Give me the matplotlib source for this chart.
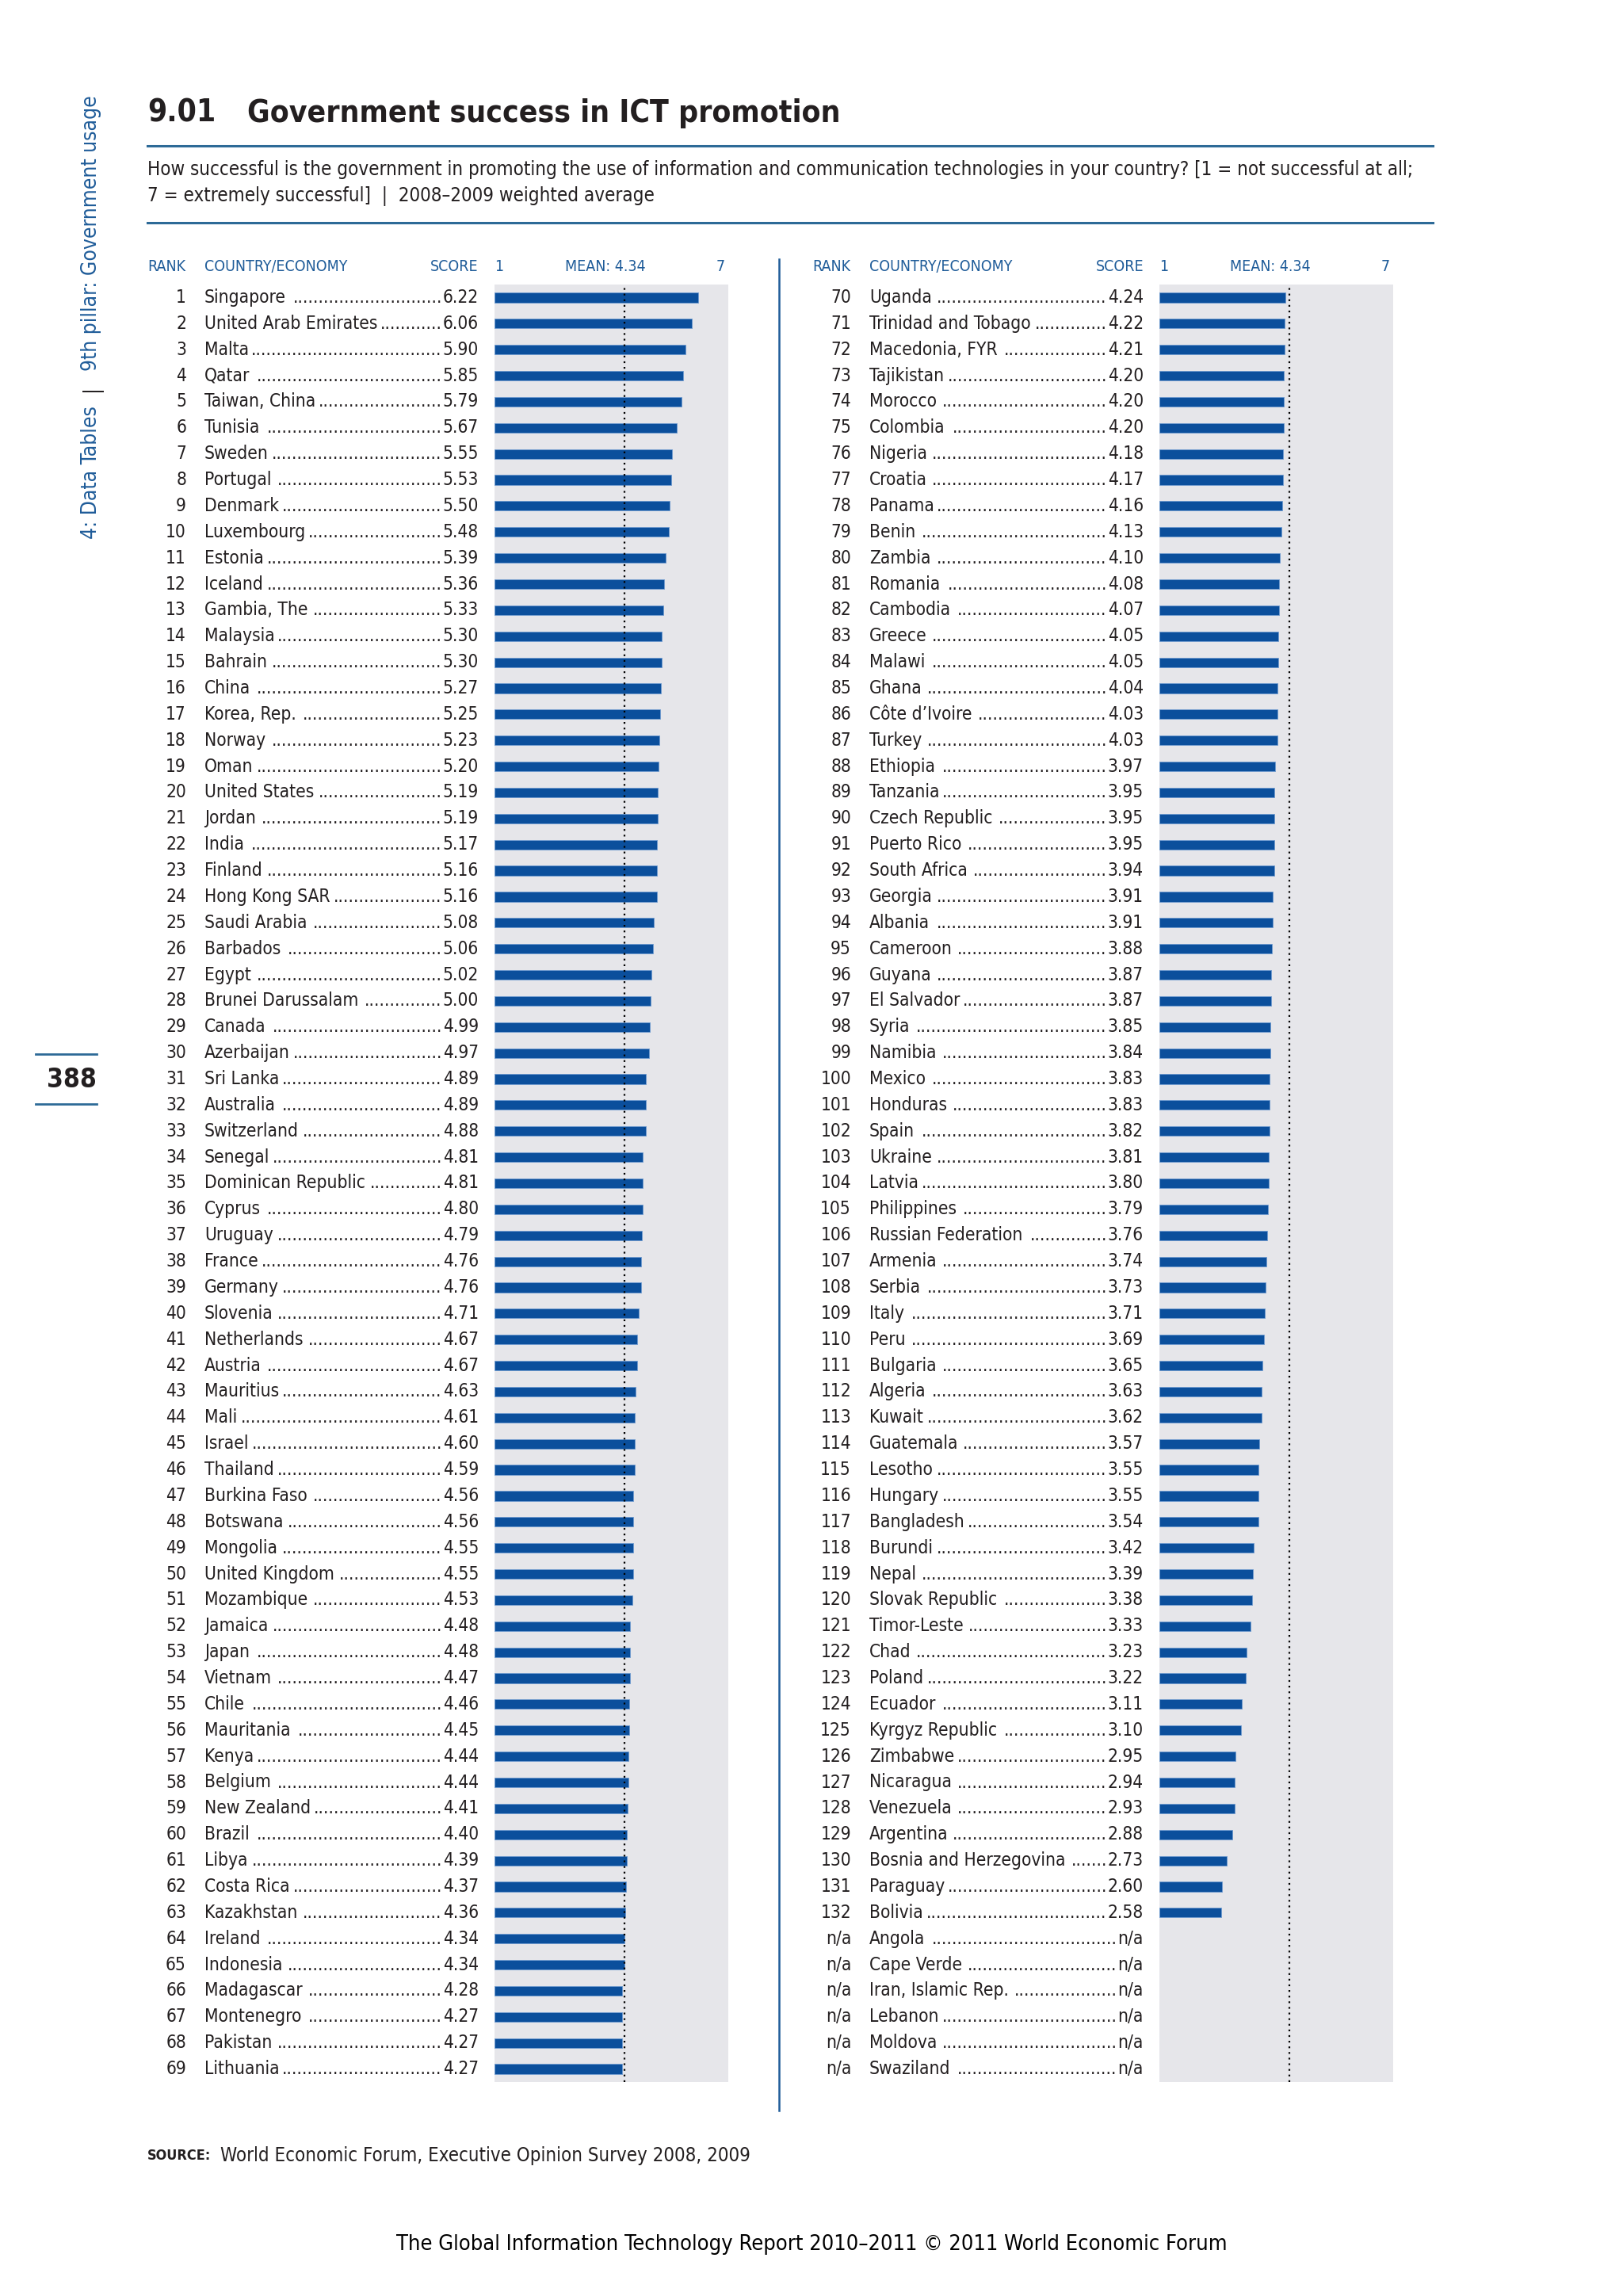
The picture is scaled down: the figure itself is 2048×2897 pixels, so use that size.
import matplotlib
matplotlib.use('Agg')
import matplotlib.pyplot as plt
import matplotlib.transforms as mtransforms
import numpy as np

W, H = 2048, 2897

# ---- data ----
ranks_left = [str(i) for i in range(1, 70)]
countries_left = [
    'Singapore', 'United Arab Emirates', 'Malta', 'Qatar', 'Taiwan, China', 'Tunisia',
    'Sweden', 'Portugal', 'Denmark', 'Luxembourg', 'Estonia', 'Iceland', 'Gambia, The',
    'Malaysia', 'Bahrain', 'China', 'Korea, Rep.', 'Norway', 'Oman', 'United States',
    'Jordan', 'India', 'Finland', 'Hong Kong SAR', 'Saudi Arabia', 'Barbados', 'Egypt',
    'Brunei Darussalam', 'Canada', 'Azerbaijan', 'Sri Lanka', 'Australia', 'Switzerland',
    'Senegal', 'Dominican Republic', 'Cyprus', 'Uruguay', 'France', 'Germany', 'Slovenia',
    'Netherlands', 'Austria', 'Mauritius', 'Mali', 'Israel', 'Thailand', 'Burkina Faso',
    'Botswana', 'Mongolia', 'United Kingdom', 'Mozambique', 'Jamaica', 'Japan', 'Vietnam',
    'Chile', 'Mauritania', 'Kenya', 'Belgium', 'New Zealand', 'Brazil', 'Libya',
    'Costa Rica', 'Kazakhstan', 'Ireland', 'Indonesia', 'Madagascar', 'Montenegro',
    'Pakistan', 'Lithuania']
scores_left = [
    6.22, 6.06, 5.90, 5.85, 5.79, 5.67, 5.55, 5.53, 5.50, 5.48, 5.39, 5.36, 5.33, 5.30,
    5.30, 5.27, 5.25, 5.23, 5.20, 5.19, 5.19, 5.17, 5.16, 5.16, 5.08, 5.06, 5.02, 5.00,
    4.99, 4.97, 4.89, 4.89, 4.88, 4.81, 4.81, 4.80, 4.79, 4.76, 4.76, 4.71, 4.67, 4.67,
    4.63, 4.61, 4.60, 4.59, 4.56, 4.56, 4.55, 4.55, 4.53, 4.48, 4.48, 4.47, 4.46, 4.45,
    4.44, 4.44, 4.41, 4.40, 4.39, 4.37, 4.36, 4.34, 4.34, 4.28, 4.27, 4.27, 4.27]

ranks_right = [str(i) for i in range(70, 133)] + ['n/a'] * 6
countries_right = [
    'Uganda', 'Trinidad and Tobago', 'Macedonia, FYR', 'Tajikistan', 'Morocco', 'Colombia',
    'Nigeria', 'Croatia', 'Panama', 'Benin', 'Zambia', 'Romania', 'Cambodia', 'Greece',
    'Malawi', 'Ghana', 'Côte d\u2019Ivoire', 'Turkey', 'Ethiopia', 'Tanzania',
    'Czech Republic', 'Puerto Rico', 'South Africa', 'Georgia', 'Albania', 'Cameroon',
    'Guyana', 'El Salvador', 'Syria', 'Namibia', 'Mexico', 'Honduras', 'Spain', 'Ukraine',
    'Latvia', 'Philippines', 'Russian Federation', 'Armenia', 'Serbia', 'Italy', 'Peru',
    'Bulgaria', 'Algeria', 'Kuwait', 'Guatemala', 'Lesotho', 'Hungary', 'Bangladesh',
    'Burundi', 'Nepal', 'Slovak Republic', 'Timor-Leste', 'Chad', 'Poland', 'Ecuador',
    'Kyrgyz Republic', 'Zimbabwe', 'Nicaragua', 'Venezuela', 'Argentina',
    'Bosnia and Herzegovina', 'Paraguay', 'Bolivia',
    'Angola', 'Cape Verde', 'Iran, Islamic Rep.', 'Lebanon', 'Moldova', 'Swaziland']
scores_right = [
    4.24, 4.22, 4.21, 4.20, 4.20, 4.20, 4.18, 4.17, 4.16, 4.13, 4.10, 4.08, 4.07, 4.05,
    4.05, 4.04, 4.03, 4.03, 3.97, 3.95, 3.95, 3.95, 3.94, 3.91, 3.91, 3.88, 3.87, 3.87,
    3.85, 3.84, 3.83, 3.83, 3.82, 3.81, 3.80, 3.79, 3.76, 3.74, 3.73, 3.71, 3.69, 3.65,
    3.63, 3.62, 3.57, 3.55, 3.55, 3.54, 3.42, 3.39, 3.38, 3.33, 3.23, 3.22, 3.11, 3.10,
    2.95, 2.94, 2.93, 2.88, 2.73, 2.60, 2.58,
    None, None, None, None, None, None]

mean_score = 4.34

# condensed face of DejaVu Sans for the narrow print type
plt.rcParams['font.family'] = ['DejaVu Sans']
plt.rcParams['font.stretch'] = 'condensed'

BLUE_TXT = '#1f5c99'
BAR = '#0b4f9c'
RULE = '#2d6a97'
GREY = '#e6e6ea'
TEXT = '#231f20'

fig = plt.figure(figsize=(W / 100, H / 100), dpi=100)
renderer = fig.canvas.get_renderer()


def fx(x):
    return x / W


def fy(y):
    return 1 - y / H


# title block
fig.text(fx(186), fy(143), '9.01', fontsize=28, fontweight='bold', color=TEXT,
         ha='left', va='center')
fig.text(fx(312), fy(143), 'Government success in ICT promotion', fontsize=28,
         fontweight='bold', color=TEXT, ha='left', va='center')
fig.add_artist(plt.Line2D([fx(186), fx(1808)], [fy(184), fy(184)], color=RULE, lw=2.2))
fig.text(fx(186), fy(214),
         'How successful is the government in promoting the use of information and '
         'communication technologies in your country? [1 = not successful at all;',
         fontsize=17.3, color=TEXT, ha='left', va='center')
fig.text(fx(186), fy(247), '7 = extremely successful]  |  2008\u20132009 weighted average',
         fontsize=17.3, color=TEXT, ha='left', va='center')
fig.add_artist(plt.Line2D([fx(186), fx(1808)], [fy(281), fy(281)], color=RULE, lw=2.2))

# side label, written bottom to top
side_parts = [('4: Data Tables', BLUE_TXT), ('|', TEXT), ('9th pillar: Government usage', BLUE_TXT)]
ypos = 680
for txt, col in side_parts:
    t = fig.text(fx(115), fy(ypos), txt, rotation=90, rotation_mode='anchor', fontsize=19,
                 color=col, ha='left', va='center')
    ypos -= t.get_window_extent(renderer).height + 18

fig.add_artist(plt.Line2D([fx(45), fx(122)], [fy(1330), fy(1330)], color=RULE, lw=2))
fig.add_artist(plt.Line2D([fx(45), fx(122)], [fy(1393), fy(1393)], color=RULE, lw=2))
fig.text(fx(122), fy(1362), '388', fontsize=24, fontweight='bold', color=TEXT,
         ha='right', va='center')

# divider
fig.add_artist(plt.Line2D([fx(983), fx(983)], [fy(327), fy(2663)], color=BLUE_TXT, lw=1.8))

# source and footer
fig.text(fx(186), fy(2720), 'SOURCE:', fontsize=13, fontweight='bold', color=TEXT,
         ha='left', va='center')
fig.text(fx(278), fy(2720), 'World Economic Forum, Executive Opinion Survey 2008, 2009',
         fontsize=17.2, color=TEXT, ha='left', va='center')
fig.text(fx(1024), fy(2832),
         'The Global Information Technology Report 2010\u20132011 \u00a9 2011 World Economic Forum',
         fontsize=19.5, color='black', ha='center', va='center')

PANEL_TOP, PANEL_BOT = 359, 2627
ROW_FS = 16.3

# width of one leader dot
probe = fig.text(0, 0, '.' * 20, fontsize=ROW_FS)
dot_w = probe.get_window_extent(renderer).width / 20
probe.remove()


def draw_column(off, ranks, countries, scores):
    # off = horizontal shift of this column in pixels
    ax = fig.add_axes([fx(624 + off), fy(PANEL_BOT), fx(295), (PANEL_BOT - PANEL_TOP) / H])
    ax.set_facecolor(GREY)
    n = len(countries)
    ax.set_xlim(1, 7)
    ax.set_ylim(n - 0.5, -0.5)
    for s in ax.spines.values():
        s.set_visible(False)
    ax.set_xticks([])
    ax.set_yticks([])

    ys = np.arange(n)
    vals = np.array([np.nan if s is None else s for s in scores])
    ok = ~np.isnan(vals)
    ax.barh(ys[ok], vals[ok] - 1, left=1, height=0.37, color=BAR,
            edgecolor='#6f9bd0', linewidth=0.6)
    ax.axvline(mean_score, color='black', lw=1.6, ls=(0, (1, 2.2)))

    tr = mtransforms.blended_transform_factory(fig.transFigure, ax.transData)

    # headers
    hy = fy(337)
    hfs = 14
    fig.text(fx(186 + off), hy, 'RANK', fontsize=hfs, color=BLUE_TXT, ha='left', va='center')
    fig.text(fx(258 + off), hy, 'COUNTRY/ECONOMY', fontsize=hfs, color=BLUE_TXT,
             ha='left', va='center')
    fig.text(fx(604 + off), hy, 'SCORE', fontsize=hfs, color=BLUE_TXT, ha='right', va='center')
    fig.text(fx(630 + off), hy, '1', fontsize=hfs, color=BLUE_TXT, ha='center', va='center')
    fig.text(fx(764 + off), hy, 'MEAN: 4.34', fontsize=hfs, color=BLUE_TXT,
             ha='center', va='center')
    fig.text(fx(909 + off), hy, '7', fontsize=hfs, color=BLUE_TXT, ha='center', va='center')

    for i in range(n):
        fig.text(fx(235 + off), i, ranks[i], transform=tr, fontsize=ROW_FS, color=TEXT,
                 ha='right', va='center')
        t_name = fig.text(fx(258 + off), i, countries[i], transform=tr, fontsize=ROW_FS,
                          color=TEXT, ha='left', va='center')
        label = 'n/a' if scores[i] is None else f'{scores[i]:.2f}'
        t_score = fig.text(fx(604 + off), i, label, transform=tr, fontsize=ROW_FS,
                           color=TEXT, ha='right', va='center')
        x0 = t_name.get_window_extent(renderer).x1 + 3
        x1 = t_score.get_window_extent(renderer).x0 - 1
        nd = int((x1 - x0) // dot_w)
        if nd > 0:
            fig.text(fx(x1), i, '.' * nd, transform=tr, fontsize=ROW_FS, color=TEXT,
                     ha='right', va='center')
    return ax


draw_column(0, ranks_left, countries_left, scores_left)
draw_column(839, ranks_right, countries_right, scores_right)

fig.savefig('out.png', dpi=100)
